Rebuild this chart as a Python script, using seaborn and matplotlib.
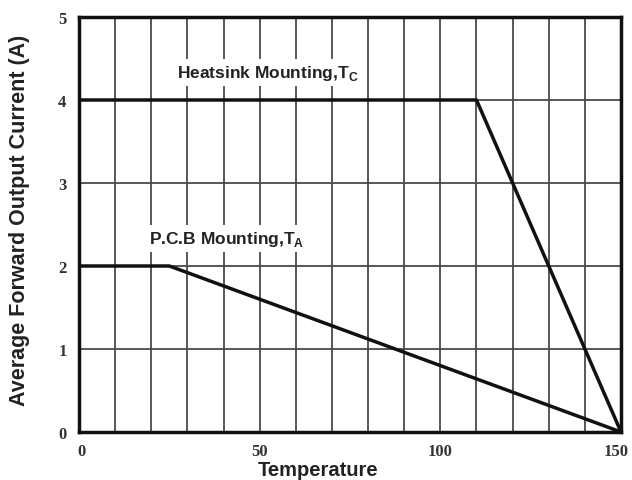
import matplotlib
matplotlib.use("Agg")
import matplotlib.pyplot as plt
import matplotlib.transforms as mtransforms
import pandas as pd
import seaborn as sns

# derating curves
heatsink_temp = [0, 110, 150]
heatsink_current = [4, 4, 0]
pcb_temp = [0, 25, 150]
pcb_current = [2, 2, 0]

x_ticks = [0, 50, 100, 150]
y_ticks = [0, 1, 2, 3, 4, 5]
x_grid = list(range(0, 151, 10))

sns.set_theme(style="white")
plt.rcParams["font.family"] = ["Liberation Sans", "DejaVu Sans"]

fig = plt.figure(figsize=(6.32, 4.81), dpi=100)
ax = fig.add_axes([0.125, 0.0998, 0.8576, 0.8628])

for gx in x_grid[1:-1]:
    ax.axvline(gx, color="#4a4a4a", lw=1.3, zorder=1)
for gy in y_ticks[1:-1]:
    ax.axhline(gy, color="#4a4a4a", lw=1.3, zorder=1)

df_hs = pd.DataFrame({"temp": heatsink_temp, "current": heatsink_current})
df_pcb = pd.DataFrame({"temp": pcb_temp, "current": pcb_current})
sns.lineplot(data=df_hs, x="temp", y="current", color="#111111", lw=2.5, ax=ax, zorder=3)
sns.lineplot(data=df_pcb, x="temp", y="current", color="#111111", lw=2.5, ax=ax, zorder=3)

ax.text(27, 4.33, "Heatsink Mounting,T$_\\mathregular{C}$", fontsize=12.5, fontweight="bold",
        color="#222222", va="center", ha="left", zorder=4,
        bbox=dict(facecolor="white", edgecolor="none", pad=3))
ax.text(19.5, 2.33, "P.C.B Mounting,T$_\\mathregular{A}$", fontsize=12.5, fontweight="bold",
        color="#222222", va="center", ha="left", zorder=4,
        bbox=dict(facecolor="white", edgecolor="none", pad=3))

ax.set_xlim(0, 150)
ax.set_ylim(0, 5)
ax.set_xticks(x_ticks)
ax.set_yticks(y_ticks)
ax.tick_params(axis="x", length=0, pad=8)
ax.tick_params(axis="y", length=0, pad=9)
for lab in ax.get_xticklabels() + ax.get_yticklabels():
    lab.set_fontfamily("Liberation Serif")
    lab.set_fontweight("bold")
    lab.set_fontsize(12)
    lab.set_color("#333333")

# keep the end x tick labels inside the canvas
xlabs = ax.get_xticklabels()
xlabs[0].set_transform(xlabs[0].get_transform()
                       + mtransforms.ScaledTranslation(0.02, 0, fig.dpi_scale_trans))
xlabs[-1].set_transform(xlabs[-1].get_transform()
                        + mtransforms.ScaledTranslation(-0.05, 0, fig.dpi_scale_trans))

ax.set_xlabel("Temperature", fontsize=14.5, fontweight="bold", color="#222222",
              va="center", ha="center")
ax.xaxis.set_label_coords(0.441, -0.091)
ax.set_ylabel("Average Forward Output Current (A)", fontsize=15.5, fontweight="bold",
              color="#222222", va="center", ha="center")
ax.yaxis.set_label_coords(-0.109, 0.513)

for sp in ax.spines.values():
    sp.set_color("#111111")
    sp.set_linewidth(2.5)
    sp.set_visible(True)

fig.savefig("out.png", dpi=100)
